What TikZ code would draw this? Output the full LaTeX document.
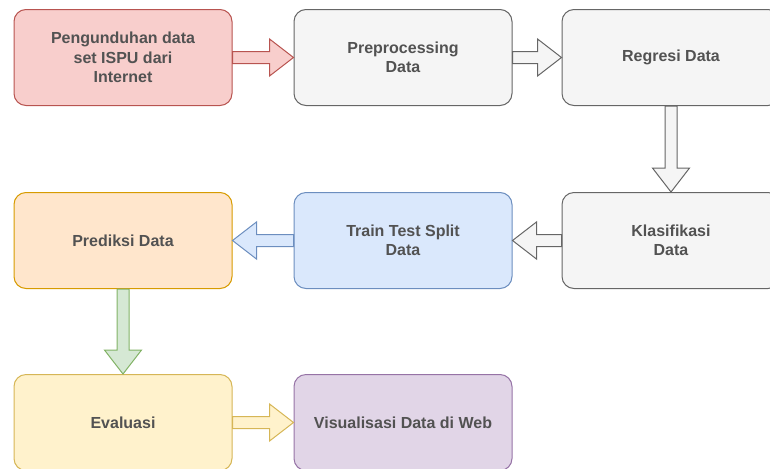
\documentclass[tikz,border=0pt]{standalone}
\usepackage{fontspec}
\setmainfont{Liberation Sans}
\usetikzlibrary{calc}
\usetikzlibrary{positioning}

\definecolor{redfill}{HTML}{F8CECC}
\definecolor{redline}{HTML}{B85450}
\definecolor{greyfill}{HTML}{F5F5F5}
\definecolor{greyline}{HTML}{666666}
\definecolor{bluefill}{HTML}{DAE8FC}
\definecolor{blueline}{HTML}{6C8EBF}
\definecolor{orangefill}{HTML}{FFE6CC}
\definecolor{orangeline}{HTML}{D79B00}
\definecolor{yellowfill}{HTML}{FFF2CC}
\definecolor{yellowline}{HTML}{D6B656}
\definecolor{purplefill}{HTML}{E1D5E7}
\definecolor{purpleline}{HTML}{9673A6}
\definecolor{greenfill}{HTML}{D5E8D4}
\definecolor{greenline}{HTML}{82B366}

\tikzset{
  box/.style={draw,rounded corners=9pt,line width=0.75pt,minimum width=163.5pt,minimum height=72pt,
    align=center,text=black!68,font=\bfseries\fontsize{12pt}{14.6pt}\selectfont},
  rednode/.style={box,fill=redfill,draw=redline},
  greynode/.style={box,fill=greyfill,draw=greyline},
  bluenode/.style={box,fill=bluefill,draw=blueline},
  orangenode/.style={box,fill=orangefill,draw=orangeline},
  yellownode/.style={box,fill=yellowfill,draw=yellowline},
  purplenode/.style={box,fill=purplefill,draw=purpleline},
}

% block arrow from #2 to #3
\newcommand{\flexarrow}[3][]{%
  \coordinate (head) at ($(#3)!18pt!(#2)$);
  \draw[line width=0.75pt,line join=miter,#1] ($(#2)!4.5pt!90:(#3)$) -- ($(head)!4.5pt!90:(#3)$)
    -- ($(head)!13.9pt!90:(#3)$) -- (#3) -- ($(head)!13.9pt!-90:(#3)$)
    -- ($(head)!4.5pt!-90:(#3)$) -- ($(#2)!4.5pt!-90:(#3)$) -- cycle;
}

\begin{document}
\begin{tikzpicture}[x=0.75pt,y=-0.75pt]
\useasboundingbox (0,0) rectangle (770,468);
\clip (0,0) rectangle (770,468);

\node[rednode] (pgu) at (123,57.5) {Pengunduhan data\\set ISPU dari\\Internet};
\node[greynode,right=45.75pt of pgu] (pre) {Preprocessing\\Data};
\node[greynode,right=36.75pt of pre] (reg) {Regresi Data};
\node[greynode,below=64.5pt of reg] (kla) {Klasifikasi\\Data};
\node[bluenode,below=64.5pt of pre] (tts) {Train Test Split\\Data};
\node[orangenode,below=64.5pt of pgu] (pred) {Prediksi Data};
\node[yellownode,below=63.75pt of pred] (eva) {Evaluasi};
\node[purplenode,right=45.75pt of eva] (vis) {Visualisasi Data di Web};

\flexarrow[fill=redfill,draw=redline]{pgu.east}{pre.west}
\flexarrow[fill=greyfill,draw=greyline]{pre.east}{reg.west}
\flexarrow[fill=greyfill,draw=greyline]{reg.south}{kla.north}
\flexarrow[fill=greyfill,draw=greyline]{kla.west}{tts.east}
\flexarrow[fill=bluefill,draw=blueline]{tts.west}{pred.east}
\flexarrow[fill=greenfill,draw=greenline]{pred.south}{eva.north}
\flexarrow[fill=yellowfill,draw=yellowline]{eva.east}{vis.west}
\end{tikzpicture}
\end{document}
